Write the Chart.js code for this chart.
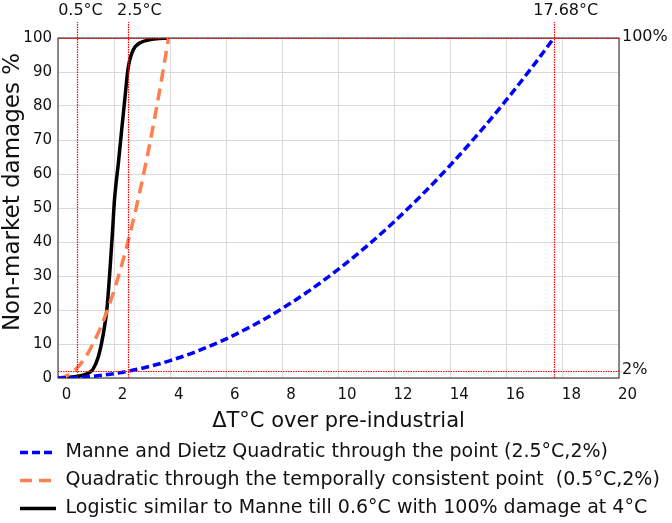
<!DOCTYPE html>
<html>
<head>
<meta charset="utf-8">
<script src="https://cdn.jsdelivr.net/npm/chart.js@4.4.1/dist/chart.umd.min.js"></script>
<style>
  html, body { margin: 0; padding: 0; background: #fff; }
  #wrap { width: 672px; height: 523px; position: relative; }
</style>
</head>
<body>
<div id="wrap"><canvas id="dmg"></canvas></div>
<script>
// ---- data (x in °C, y in %) ----
const blueX = [0, 1, 2, 3, 4, 5, 6, 7, 8, 9, 10, 11, 12, 13, 14, 15, 16, 17, 17.68];
const blueY = [0, 0.32, 1.28, 2.88, 5.12, 8, 11.52, 15.68, 20.48, 25.92, 32, 38.72, 46.08, 54.08, 62.72, 72, 81.92, 92.48, 100];

const orangeX = [0, 0.25, 0.5, 0.75, 1, 1.25, 1.5, 1.75, 2, 2.25, 2.5, 2.75, 3, 3.25, 3.5, 3.75, 3.94];
const orangeY = [0, 0.4, 1.6, 3.6, 6.4, 10.1, 14.5, 19.7, 25.8, 32.6, 40.3, 48.7, 58, 68, 78.9, 90.6, 100];

const blackX = [0, 0.4, 0.75, 1.05, 1.25, 1.44, 1.62, 1.74, 1.86, 1.94, 2.01, 2.08, 2.15, 2.27, 2.39, 2.49, 2.56, 2.63, 2.75, 2.93, 3.34, 3.94];
const blackY = [0, 0.2, 0.6, 1.3, 2.6, 6.3, 13.2, 20, 32.7, 42.6, 52, 58, 63, 73, 82.7, 90.6, 93.6, 95.5, 97.4, 98.6, 99.6, 100];

const seriesNames = [
  'Manne and Dietz Quadratic through the point (2.5°C,2%)',
  'Quadratic through the temporally consistent point  (0.5°C,2%)',
  'Logistic similar to Manne till 0.6°C with 100% damage at 4°C'
];

// reference markers
const vLineX = [0.67, 2.5, 17.68];
const topLabelX = [0.8, 2.9, 18.1];
const topLabels = ['0.5°C', '2.5°C', '17.68°C'];
const hLineY = [2, 100];
const rightLabels = ['2%', '100%'];

const xTicksMin = 0, xTicksMax = 20, xStep = 2;
const yTicksMin = 0, yTicksMax = 100, yStep = 10;

const FONT = "'DejaVu Sans', sans-serif";
Chart.defaults.font.family = FONT;
Chart.defaults.color = '#111';

const toPts = (xs, ys) => xs.map((x, i) => ({ x: x, y: ys[i] }));

// frame + red dotted markers + annotation text
const markers = {
  id: 'markers',
  beforeDatasetsDraw(chart) {
    const { ctx, chartArea: a } = chart;
    ctx.save();
    ctx.strokeStyle = '#444';
    ctx.lineWidth = 1.2;
    ctx.strokeRect(a.left, a.top, a.right - a.left, a.bottom - a.top);
    ctx.restore();
  },
  afterDatasetsDraw(chart) {
    const { ctx, chartArea: a, scales: { x, y } } = chart;
    ctx.save();
    ctx.strokeStyle = 'rgb(255,0,0)';
    ctx.lineWidth = 1.2;
    ctx.setLineDash([1.5, 1]);
    vLineX.forEach(v => {
      const px = Math.round(x.getPixelForValue(v)) + 0.5;
      ctx.beginPath(); ctx.moveTo(px, a.bottom); ctx.lineTo(px, a.top - 16); ctx.stroke();
    });
    hLineY.forEach(v => {
      const py = Math.round(y.getPixelForValue(v)) + 0.5;
      ctx.beginPath(); ctx.moveTo(a.left, py); ctx.lineTo(a.right, py); ctx.stroke();
    });
    ctx.setLineDash([]);
    ctx.fillStyle = '#111';
    ctx.font = '16px ' + FONT;
    ctx.textAlign = 'center';
    ctx.textBaseline = 'middle';
    topLabels.forEach((t, i) => ctx.fillText(t, x.getPixelForValue(topLabelX[i]), 11));
    ctx.textAlign = 'left';
    rightLabels.forEach((t, i) => ctx.fillText(t, a.right + 3, y.getPixelForValue(hLineY[i]) - 1));
    // y axis title
    ctx.translate(13, 192);
    ctx.rotate(-Math.PI / 2);
    ctx.textAlign = 'center';
    ctx.font = '23px ' + FONT;
    ctx.fillText('Non-market damages %', 0, 0);
    ctx.restore();
  }
};

new Chart(document.getElementById('dmg'), {
  type: 'line',
  data: {
    datasets: [
      { label: seriesNames[0], data: toPts(blueX, blueY), borderColor: '#0000ff', borderWidth: 3.5, borderDash: [8, 4] },
      { label: seriesNames[1], data: toPts(orangeX, orangeY), borderColor: '#ff7f50', borderWidth: 3.5, borderDash: [12, 7] },
      { label: seriesNames[2], data: toPts(blackX, blackY), borderColor: '#000000', borderWidth: 3.5, borderDash: [] }
    ]
  },
  options: {
    responsive: true,
    maintainAspectRatio: false,
    animation: false,
    elements: { point: { radius: 0 }, line: { cubicInterpolationMode: 'monotone', fill: false } },
    layout: { padding: { top: 38, right: 0, left: 11, bottom: 0 } },
    plugins: {
      tooltip: { enabled: false },
      legend: {
        position: 'bottom',
        align: 'start',
        maxHeight: 89,
        labels: {
          usePointStyle: true, pointStyleWidth: 36, padding: 9, color: '#111', font: { size: 19 },
          generateLabels: chart => chart.data.datasets.map((ds, i) => ({
            text: ds.label,
            datasetIndex: i,
            pointStyle: 'line',
            strokeStyle: ds.borderColor,
            fillStyle: ds.borderColor,
            lineWidth: ds.borderWidth,
            lineDash: ds.borderDash,
            fontColor: '#111',
            hidden: false
          }))
        }
      }
    },
    scales: {
      x: {
        type: 'linear', min: xTicksMin, max: xTicksMax,
        afterFit: s => { s.height = 56; },
        grid: { color: '#d9d9d9', drawTicks: false },
        border: { display: false },
        ticks: { stepSize: xStep, labelOffset: 8.5, padding: 8, font: { size: 15 }, color: '#111', maxRotation: 0 },
        title: { display: true, text: 'ΔT°C over pre-industrial', font: { size: 21 }, color: '#111', padding: 0 }
      },
      y: {
        min: yTicksMin, max: yTicksMax,
        afterFit: s => { s.width = 47; },
        grid: { color: '#d9d9d9', drawTicks: false },
        border: { display: false },
        ticks: { stepSize: yStep, padding: 6, font: { size: 15 }, color: '#111' }
      },
      yRight: {
        position: 'right',
        afterFit: s => { s.width = 53; },
        grid: { display: false, drawTicks: false },
        border: { display: false },
        ticks: { display: false }
      }
    }
  },
  plugins: [markers]
});
</script>
</body>
</html>
